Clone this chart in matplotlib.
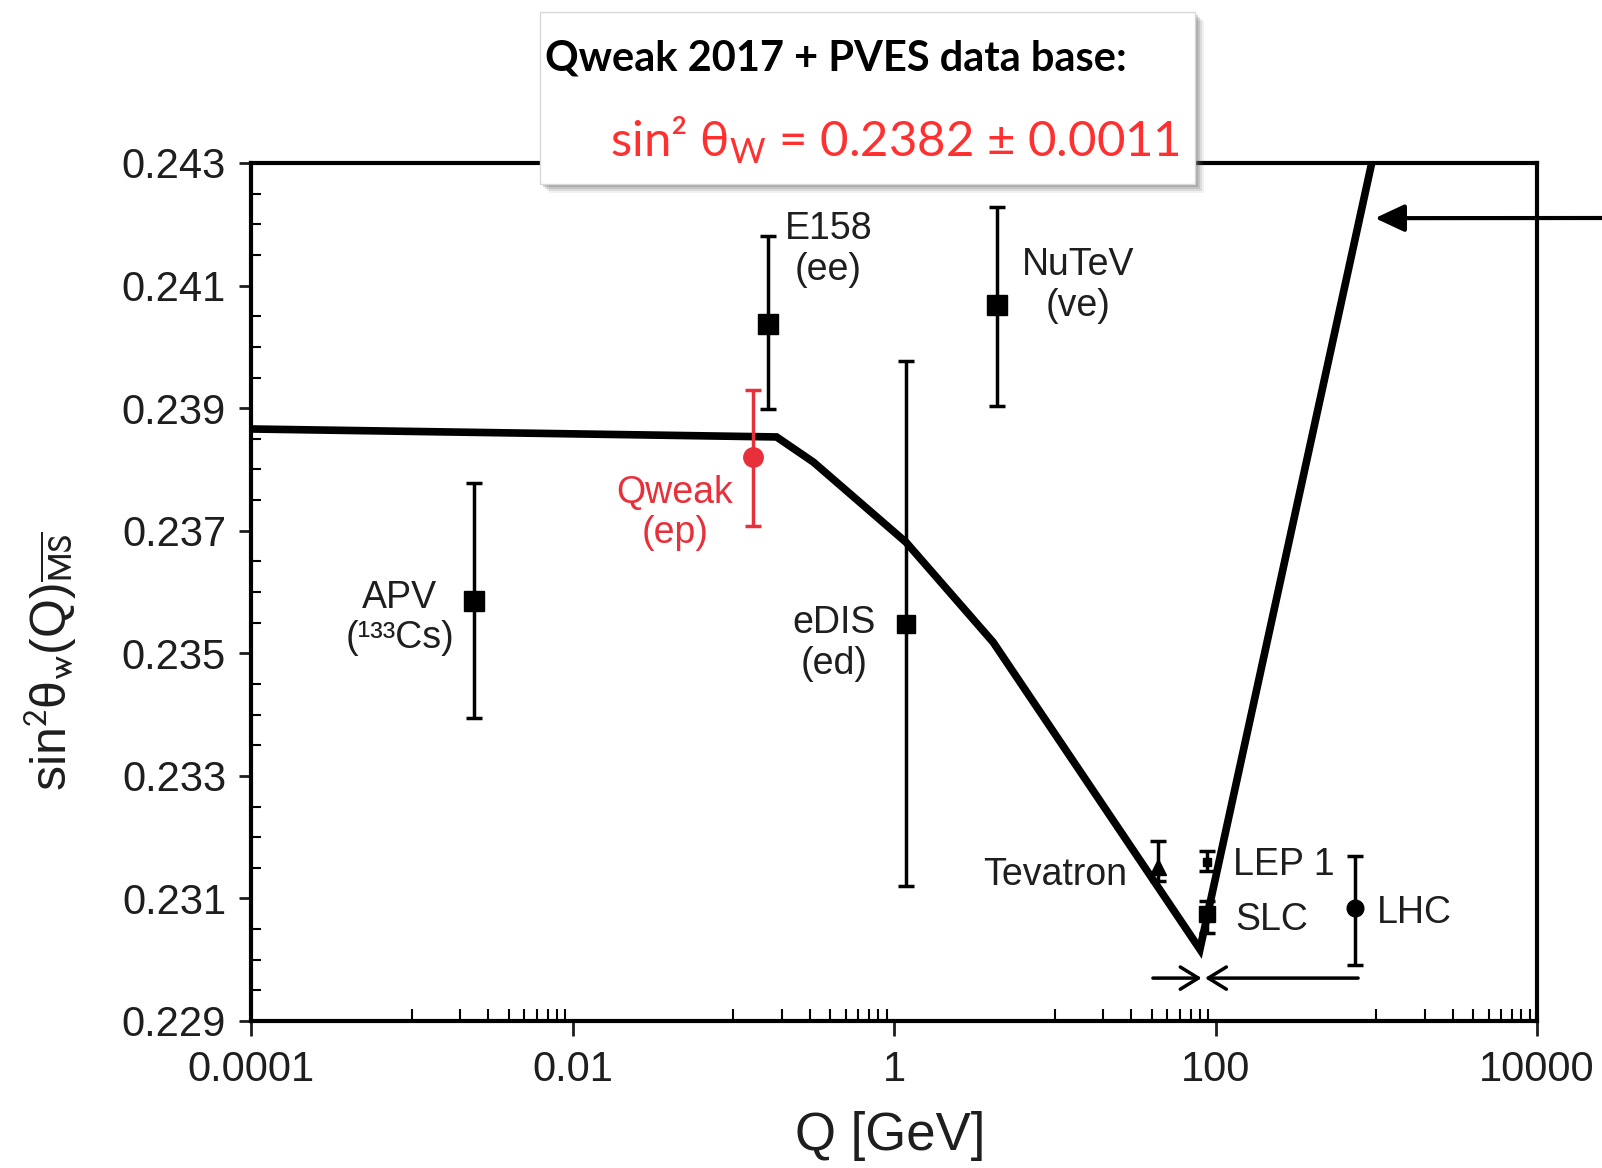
import matplotlib
matplotlib.use('Agg')
import matplotlib.pyplot as plt
from matplotlib.patches import Rectangle
from matplotlib.ticker import FixedLocator, NullFormatter

# Standard-model running of sin^2 theta_W
curve_q = [1e-4, 0.186, 0.315, 1.19, 4.14, 80, 937]
curve_s = [0.23866, 0.23853, 0.23812, 0.23681, 0.23518, 0.23017, 0.2430]

# measurements
names = ['APV', 'E158', 'Qweak', 'eDIS', 'NuTeV', 'Tevatron', 'LEP 1', 'SLC', 'LHC']
q_vals = [0.00244, 0.165, 0.132, 1.19, 4.39, 43.6, 88, 88, 738]
s_vals = [0.23585, 0.24037, 0.2382, 0.23548, 0.24069, 0.23151, 0.2316, 0.23074, 0.23085]
err_lo = [0.00191, 0.00138, 0.00113, 0.00427, 0.00165, 0.00022, 0.00015, 0.0003, 0.00093]
err_hi = [0.00193, 0.00144, 0.0011, 0.00429, 0.0016, 0.00043, 0.00018, 0.00022, 0.00084]

x_ticks = [1e-4, 1e-2, 1, 1e2, 1e4]
x_names = ['0.0001', '0.01', '1', '100', '10000']
y_ticks = [0.229, 0.231, 0.233, 0.235, 0.237, 0.239, 0.241, 0.243]
y_names = ['0.229', '0.231', '0.233', '0.235', '0.237', '0.239', '0.241', '0.243']

RED = '#e8303a'
INK = '#1e1e1e'


def main():
    plt.rcParams['font.family'] = ['Liberation Sans', 'DejaVu Sans']
    plt.rcParams['mathtext.fontset'] = 'custom'
    plt.rcParams['mathtext.rm'] = 'Lato'
    plt.rcParams['mathtext.it'] = 'Lato:italic'

    fig = plt.figure(figsize=(16.02, 11.68), dpi=100, facecolor='white')
    ax = fig.add_axes([251 / 1602, 1 - 1021 / 1168, 1286 / 1602, 858 / 1168])

    ax.set_xscale('log')
    ax.set_xlim(1e-4, 1e4)
    ax.set_ylim(0.229, 0.243)

    # curve
    ax.plot(curve_q, curve_s, '-', color='black', lw=5.5, solid_joinstyle='miter', zorder=3)

    # points
    styles = {
        'APV': dict(marker='s', ms=14, color='black'),
        'E158': dict(marker='s', ms=14, color='black'),
        'Qweak': dict(marker='o', ms=14, color=RED),
        'eDIS': dict(marker='s', ms=13, color='black'),
        'NuTeV': dict(marker='s', ms=14, color='black'),
        'Tevatron': dict(marker='^', ms=12, color='black'),
        'LEP 1': dict(marker='s', ms=6, color='black'),
        'SLC': dict(marker='s', ms=11, color='black'),
        'LHC': dict(marker='o', ms=12, color='black'),
    }
    for i, n in enumerate(names):
        st = styles[n]
        ax.errorbar([q_vals[i]], [s_vals[i]], yerr=[[err_lo[i]], [err_hi[i]]],
                    fmt=st['marker'], ms=st['ms'], color=st['color'], mec=st['color'],
                    elinewidth=2.5, capsize=6, capthick=2.5, zorder=4)

    # labels next to the points
    lab_font = dict(fontsize=27, color=INK, va='center')
    ax.text(0.392, 0.24159, 'E158\n(ee)', ha='center', linespacing=1.15, **lab_font)
    ax.text(13.9, 0.24100, 'NuTeV\n(ve)', ha='center', linespacing=1.15, **lab_font)
    ax.text(0.0432, 0.23729, 'Qweak\n(ep)', ha='center', linespacing=1.15,
            fontsize=27, color=RED, va='center')
    ax.text(8.4e-4, 0.23558, 'APV\n(¹³³Cs)', ha='center', linespacing=1.15, **lab_font)
    ax.text(0.425, 0.23516, 'eDIS\n(ed)', ha='center', linespacing=1.15, **lab_font)
    ax.text(10.1, 0.23139, 'Tevatron', ha='center', **lab_font)
    ax.text(128.8, 0.23154, 'LEP 1', ha='left', **lab_font)
    ax.text(132.7, 0.23064, 'SLC', ha='left', **lab_font)
    ax.text(1016, 0.23076, 'LHC', ha='left', **lab_font)

    # arrows near the Z pole
    ax.annotate('', xy=(82, 0.2297), xytext=(40.8, 0.2297),
                arrowprops=dict(arrowstyle='->,head_length=0.65,head_width=0.4',
                                lw=2.5, color='black', shrinkA=0, shrinkB=0, mutation_scale=20))
    ax.annotate('', xy=(86, 0.2297), xytext=(771, 0.2297),
                arrowprops=dict(arrowstyle='->,head_length=0.65,head_width=0.4',
                                lw=2.5, color='black', shrinkA=0, shrinkB=0, mutation_scale=20))
    # arrow coming from the right edge
    ax.annotate('', xy=(982, 0.2421), xycoords='data', xytext=(1.0, 1 - 218 / 1168),
                textcoords='figure fraction', annotation_clip=False,
                arrowprops=dict(arrowstyle='-|>,head_length=0.9,head_width=0.42',
                                lw=3, color='black', shrinkA=0, shrinkB=0, mutation_scale=20))

    # spines and ticks
    for sp in ax.spines.values():
        sp.set_linewidth(3)
    ax.tick_params(top=False, right=False)
    ax.set_xticks(x_ticks, x_names)
    minor_x = [k * 10.0 ** n for n in (-3, -1, 1, 3) for k in range(1, 10)]
    ax.xaxis.set_minor_locator(FixedLocator(minor_x))
    ax.xaxis.set_minor_formatter(NullFormatter())
    ax.set_yticks(y_ticks, y_names)
    ax.yaxis.set_minor_locator(FixedLocator([0.229 + 0.0005 * i for i in range(29)]))
    ax.tick_params(axis='x', which='major', direction='out', length=11, width=2,
                   labelsize=30, pad=10, colors=INK)
    ax.tick_params(axis='x', which='minor', direction='in', length=9, width=1.5)
    ax.tick_params(axis='y', which='major', direction='out', length=9, width=2,
                   labelsize=30, pad=9, colors=INK)
    ax.tick_params(axis='y', which='minor', direction='in', length=7, width=1.5)

    # axis titles
    fig.text(890 / 1602, 1 - 1136 / 1168, 'Q [GeV]', fontsize=38, color=INK,
             ha='center', va='center')
    fig.text(51 / 1602, 1 - 661 / 1168, r'sin$^2$θ$_\mathrm{w}$(Q)$_{\overline{\mathrm{MS}}}$',
             fontsize=36, color=INK, rotation=90, ha='center', va='center',
             math_fontfamily='stixsans')

    # result box with shadow
    bx0, bx1 = 539.5 / 1602, 1195.4 / 1602
    by0, by1 = 1 - 184 / 1168, 1 - 12.3 / 1168
    for k, a in [(9, 0.10), (7, 0.15), (5, 0.22), (3, 0.3)]:
        fig.add_artist(Rectangle((bx0 + k / 1602, by0 - k / 1168), bx1 - bx0, by1 - by0,
                                 transform=fig.transFigure, facecolor='#707070',
                                 edgecolor='none', alpha=a, zorder=5))
    fig.add_artist(Rectangle((bx0, by0), bx1 - bx0, by1 - by0, transform=fig.transFigure,
                             facecolor='white', edgecolor='#d8d8d8', lw=1, zorder=6))
    fig.text(545 / 1602, 1 - 58 / 1168, 'Qweak 2017 + PVES data base:', fontsize=30,
             fontfamily='Lato', fontweight='bold', color='black', ha='left', va='center',
             zorder=7)
    fig.text(1180 / 1602, 1 - 140 / 1168, r'sin² θ$_\mathrm{W}$ = 0.2382 ± 0.0011',
             fontsize=35.4, fontfamily='Lato', color='#ff3030', ha='right', va='center',
             zorder=7)

    fig.savefig('out.png', dpi=100, facecolor='white')


if __name__ == '__main__':
    main()
